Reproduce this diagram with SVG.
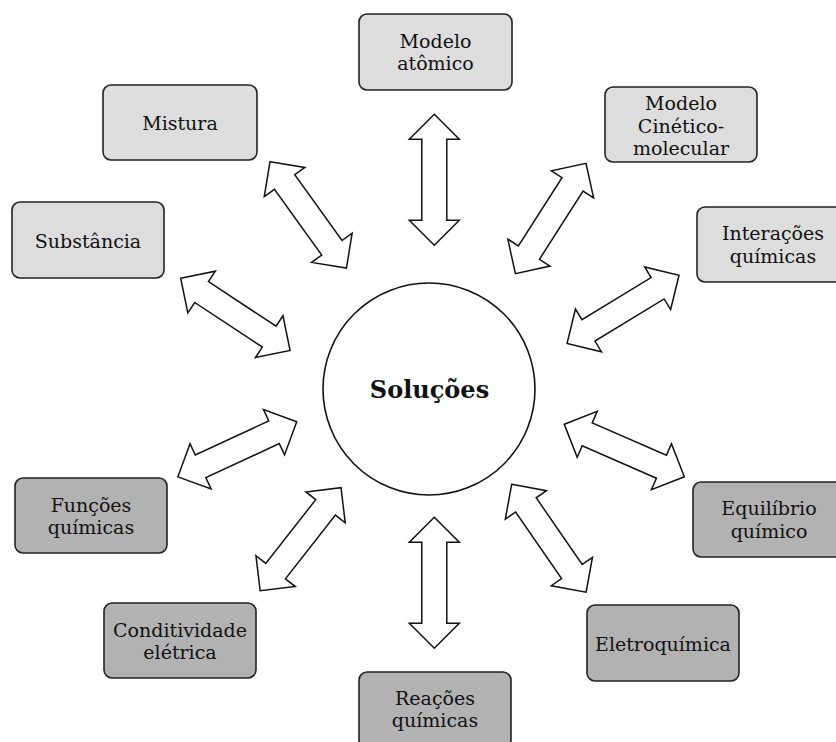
<svg xmlns="http://www.w3.org/2000/svg" xmlns:xlink="http://www.w3.org/1999/xlink" width="836" height="742" viewBox="0 0 836 742">
<style>
.box{stroke:#222;stroke-width:1.6}
.light{fill:#dddddd}
.dark{fill:#b2b2b2}
.lbl{font-family:"DejaVu Serif","Liberation Serif",serif;font-size:19px;fill:#111;text-anchor:middle}
.arr{fill:#fff;stroke:#111;stroke-width:1.5;stroke-linejoin:miter}
.center{font-family:"DejaVu Serif","Liberation Serif",serif;font-size:24px;font-weight:bold;fill:#111;text-anchor:middle}
</style>
<defs>
<path id="dbl" class="arr" d="M0,0 L25,-25 L25,-12.5 L106,-12.5 L106,-25 L131,0 L106,25 L106,12.5 L25,12.5 L25,25 Z"/>
</defs>
<rect width="836" height="742" fill="#fff"/>
<g id="connectors">
<use xlink:href="#dbl" href="#dbl" transform="translate(434.3,114.3) rotate(90)"/>
<use xlink:href="#dbl" href="#dbl" transform="translate(434.3,517.3) rotate(90)"/>
<use xlink:href="#dbl" href="#dbl" transform="translate(586,163.3) rotate(122.6)"/>
<use xlink:href="#dbl" href="#dbl" transform="translate(679,275.3) rotate(148.7)"/>
<use xlink:href="#dbl" href="#dbl" transform="translate(270,161.7) rotate(54.3)"/>
<use xlink:href="#dbl" href="#dbl" transform="translate(180.7,278.3) rotate(33.4)"/>
<use xlink:href="#dbl" href="#dbl" transform="translate(296.7,421.7) rotate(155.1)"/>
<use xlink:href="#dbl" href="#dbl" transform="translate(341,487.7) rotate(128.1)"/>
<use xlink:href="#dbl" href="#dbl" transform="translate(564.3,424.3) rotate(23.6)"/>
<use xlink:href="#dbl" href="#dbl" transform="translate(511.7,484.3) rotate(55.4)"/>
</g>
<g id="solucoes">
<circle cx="429" cy="389" r="106" fill="#fff" stroke="#111" stroke-width="1.6"/>
<text class="center" x="429.5" y="398">Soluções</text>
</g>
<g id="modelo-atomico">
<rect class="box light" x="359" y="14" width="153" height="76" rx="8"/>
<text class="lbl" x="435.5" y="47.7">Modelo</text>
<text class="lbl" x="435.5" y="70.3">atômico</text>
</g>
<g id="modelo-cinetico">
<rect class="box light" x="605" y="87" width="152" height="75" rx="8"/>
<text class="lbl" x="681" y="110">Modelo</text>
<text class="lbl" x="681" y="132.5">Cinético-</text>
<text class="lbl" x="681" y="155">molecular</text>
</g>
<g id="interacoes">
<rect class="box light" x="697" y="207" width="152" height="75" rx="8"/>
<text class="lbl" x="773" y="240.2">Interações</text>
<text class="lbl" x="773" y="262.8">químicas</text>
</g>
<g id="mistura">
<rect class="box light" x="103" y="85" width="154" height="75" rx="8"/>
<text class="lbl" x="180" y="130">Mistura</text>
</g>
<g id="substancia">
<rect class="box light" x="12" y="202" width="152" height="76" rx="8"/>
<text class="lbl" x="88" y="247.5">Substância</text>
</g>
<g id="funcoes">
<rect class="box dark" x="15" y="478" width="152" height="75" rx="8"/>
<text class="lbl" x="91" y="511.5">Funções</text>
<text class="lbl" x="91" y="534">químicas</text>
</g>
<g id="conditividade">
<rect class="box dark" x="104" y="603" width="152" height="75" rx="8"/>
<text class="lbl" x="180" y="636.7">Conditividade</text>
<text class="lbl" x="180" y="659.2">elétrica</text>
</g>
<g id="reacoes">
<rect class="box dark" x="359" y="672" width="152" height="76" rx="8"/>
<text class="lbl" x="435" y="705">Reações</text>
<text class="lbl" x="435" y="727">químicas</text>
</g>
<g id="eletroquimica">
<rect class="box dark" x="587" y="605" width="152" height="76" rx="8"/>
<text class="lbl" x="663" y="650.5">Eletroquímica</text>
</g>
<g id="equilibrio">
<rect class="box dark" x="693" y="482" width="152" height="75" rx="8"/>
<text class="lbl" x="769" y="515.2">Equilíbrio</text>
<text class="lbl" x="769" y="537.8">químico</text>
</g>
</svg>
